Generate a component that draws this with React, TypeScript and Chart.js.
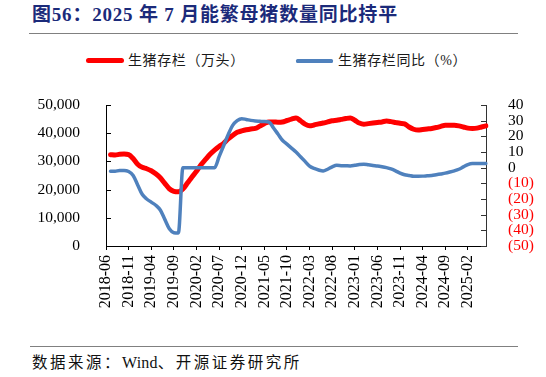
import React, { useEffect, useRef } from 'react';
import { Chart, registerables } from 'chart.js';

Chart.register(...registerables);

const titleText = '图56：2025 年 7 月能繁母猪数量同比持平';
const sourceParts = ['数据来源：', 'Wind', '、开源证券研究所'];
const seriesNames = ['生猪存栏（万头）', '生猪存栏同比（%）'];

// monthly categories 2018-06 .. 2025-06
const startYear = 2018;
const startMonth = 6;
const monthCount = 85;
const categories: string[] = [];
for (let k = 0; k < monthCount; k++) {
  const m = startMonth - 1 + k;
  const yy = startYear + Math.floor(m / 12);
  const mm = (m % 12) + 1;
  categories.push(`${yy}-${String(mm).padStart(2, '0')}`);
}
const labelEvery = 5;

// 生猪存栏（万头）
const inventory: (number | null)[] = [
  null,
  32400, 32300, 32500, 32600, 32400, 31000, 29000, 27900, 27400, 26700,
  25600, 24200, 22200, 20300, 19400, 19200, 20200, 22300, 24500, 26500,
  28800, 30700, 32500, 34000, 35300, 36400, 38000, 39200, 40300, 40800,
  41200, 41500, 41700, 42500, 43400, 44000, 44000, 43900, 44000, 44500,
  45000, 45400, 44400, 43200, 42600, 42900, 43300, 43600, 44000, 44400,
  44600, 44900, 45200, 45400, 44600, 43600, 43200, 43400, 43600, 43800,
  44000, 44300, 44100, 43800, 43500, 43300, 42200, 41400, 41100, 41300,
  41500, 41700, 42000, 42400, 42800, 42800, 42800, 42600, 42200, 41800,
  41700, 41800, 42200, 42600,
];

// 生猪存栏同比（%）
const yoy: (number | null)[] = [
  null,
  -2.3, -2.3, -1.8, -1.8, -2.5, -5, -11, -17, -20, -22,
  -24, -27, -33, -39, -41.5, -41.7, 0, 0, 0, 0,
  0, 0, 0, 0, 7, 14, 21, 27, 30, 31.3,
  30.8, 30.2, 29.8, 29.6, 29.4, 29.2, 25.5, 21.5, 17.5, 15,
  12.5, 10, 7, 4, 1, -0.5, -1.5, -2.1, -1, 0.5,
  1.5, 1.3, 1.2, 1.1, 1.5, 2, 2.2, 1.8, 1.4, 1.1,
  0.6, 0, -0.8, -2, -3.5, -4.5, -5, -5.5, -5.5, -5.4,
  -5.2, -5, -4.5, -4, -3.5, -2.8, -2, -1, 0.5, 2,
  2.6, 2.6, 2.6, 2.6,
];

const leftMin = 0;
const leftMax = 50000;
const leftStep = 10000;
const rightMin = -50;
const rightMax = 40;
const rightStep = 10;

const RED = '#FF0000';
const BLUE = '#4F81BD';
const serif = '"Liberation Serif", "Times New Roman", serif';
const cjk = '"Liberation Serif", "Noto Sans CJK SC", sans-serif';

const innerTicks = {
  id: 'innerTicks',
  beforeDatasetsDraw(chart: any) {
    const ctx = chart.ctx;
    const { left, right } = chart.chartArea;
    ctx.save();
    ctx.lineWidth = 1;
    ctx.strokeStyle = '#000';
    const ys = chart.scales.y;
    ys.ticks.forEach((t: any) => {
      const p = Math.round(ys.getPixelForValue(t.value)) + 0.5;
      ctx.beginPath();
      ctx.moveTo(left, p);
      ctx.lineTo(left + 5, p);
      ctx.stroke();
    });
    const y1 = chart.scales.y1;
    ctx.strokeStyle = '#333';
    y1.ticks.forEach((t: any) => {
      const p = Math.round(y1.getPixelForValue(t.value)) + 0.5;
      ctx.beginPath();
      ctx.moveTo(right - 5, p);
      ctx.lineTo(right, p);
      ctx.stroke();
    });
    ctx.restore();
  },
};

function ChartCanvas() {
  const ref = useRef<HTMLCanvasElement | null>(null);
  useEffect(() => {
    if (!ref.current) return;
    const chart = new Chart(ref.current, {
      type: 'line',
      data: {
        labels: categories,
        datasets: [
          {
            label: seriesNames[0],
            data: inventory,
            yAxisID: 'y',
            borderColor: RED,
            backgroundColor: RED,
            borderWidth: 5,
            pointRadius: 0,
            cubicInterpolationMode: 'monotone',
            order: 2,
          },
          {
            label: seriesNames[1],
            data: yoy,
            yAxisID: 'y1',
            borderColor: BLUE,
            backgroundColor: BLUE,
            borderWidth: 3.5,
            pointRadius: 0,
            cubicInterpolationMode: 'monotone',
            order: 1,
          },
        ],
      },
      options: {
        responsive: false,
        animation: false,
        layout: { padding: { top: 15, left: 0, right: 0, bottom: 0 } },
        plugins: { legend: { display: false }, tooltip: { enabled: false } },
        elements: { line: { borderCapStyle: 'round', borderJoinStyle: 'round' } },
        scales: {
          x: {
            type: 'category',
            offset: false,
            grid: { display: true, drawOnChartArea: false, drawTicks: true, tickLength: 4, color: '#000', lineWidth: 1 },
            border: { display: true, color: '#000', width: 1 },
            ticks: {
              autoSkip: false,
              minRotation: 90,
              maxRotation: 90,
              padding: 5,
              color: '#000',
              font: { family: serif, size: 16 },
              callback: (_v: any, i: number) => (i % labelEvery === 0 ? categories[i] : null),
            },
            afterFit: (s: any) => {
              s.height = 74;
              s.paddingLeft = 0;
              s.paddingRight = 0;
            },
          },
          y: {
            position: 'left',
            min: leftMin,
            max: leftMax,
            grid: { display: false },
            border: { display: true, color: '#000', width: 1 },
            ticks: {
              autoSkip: false,
              stepSize: leftStep,
              padding: 18,
              color: '#000',
              font: { family: serif, size: 15.5 },
              callback: (v: any) => Number(v).toLocaleString('en-US'),
            },
            afterFit: (s: any) => {
              s.width = 106;
              s.paddingTop = 0;
              s.paddingBottom = 0;
            },
          },
          y1: {
            position: 'right',
            min: rightMin,
            max: rightMax,
            grid: { display: false },
            border: { display: true, color: '#333', width: 1 },
            ticks: {
              autoSkip: false,
              stepSize: rightStep,
              padding: 14,
              color: (c: any) => (c.tick && c.tick.value < 0 ? RED : '#000'),
              font: { family: serif, size: 15.5 },
              callback: (v: any) => (Number(v) < 0 ? `(${-Number(v)})` : String(v)),
            },
            afterFit: (s: any) => {
              s.width = 60;
              s.paddingTop = 0;
              s.paddingBottom = 0;
            },
          },
        },
      } as any,
      plugins: [innerTicks],
    });
    return () => chart.destroy();
  }, []);
  return (
    <canvas
      ref={ref}
      width={546}
      height={230}
      style={{ position: 'absolute', left: 0, top: 90, width: 546, height: 230 }}
    />
  );
}

export default function App() {
  const legendText: React.CSSProperties = {
    position: 'absolute',
    top: 51,
    fontFamily: cjk,
    fontSize: 14,
    lineHeight: '20px',
    letterSpacing: 0.6,
    color: '#1a1a1a',
    whiteSpace: 'nowrap',
  };
  return (
    <div style={{ position: 'absolute', left: 0, top: 0, width: 546, height: 377, background: '#fff', overflow: 'hidden' }}>
      <div
        style={{
          position: 'absolute',
          left: 32,
          top: 3,
          fontFamily: cjk,
          fontWeight: 'bold',
          fontSize: 19,
          lineHeight: '24px',
          letterSpacing: 0.8,
          color: '#1B2A7A',
          whiteSpace: 'nowrap',
        }}
      >
        {titleText}
      </div>
      <div style={{ position: 'absolute', left: 29, top: 33, width: 489, height: 0, borderTop: '1.5px solid #808080' }} />

      <div style={{ position: 'absolute', left: 86, top: 58, width: 38, height: 5, background: RED, borderRadius: 2.5 }} />
      <div style={{ ...legendText, left: 128 }}>{seriesNames[0]}</div>
      <div style={{ position: 'absolute', left: 296, top: 59, width: 37, height: 3.5, background: BLUE, borderRadius: 1.5 }} />
      <div style={{ ...legendText, left: 338 }}>{seriesNames[1]}</div>

      <ChartCanvas />

      <div style={{ position: 'absolute', left: 30, top: 346, width: 488, height: 0, borderTop: '1.5px solid #808080' }} />
      <div
        style={{
          position: 'absolute',
          left: 32,
          top: 352,
          fontFamily: cjk,
          fontSize: 15.5,
          lineHeight: '22px',
          letterSpacing: 2.5,
          color: '#111',
          whiteSpace: 'nowrap',
        }}
      >
        {sourceParts[0]}
        <span style={{ letterSpacing: 0.2, fontSize: 16 }}>{sourceParts[1]}</span>
        {sourceParts[2]}
      </div>
    </div>
  );
}
